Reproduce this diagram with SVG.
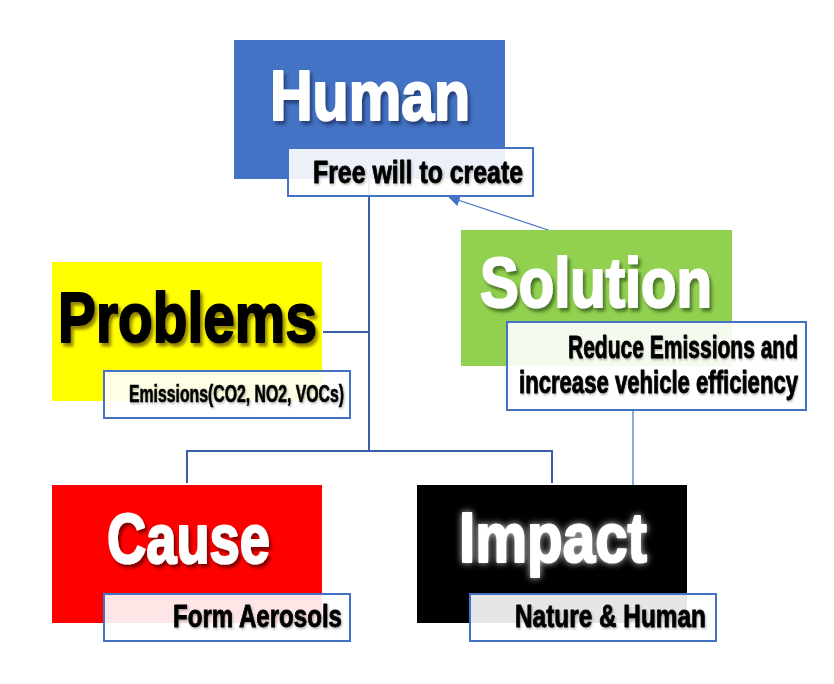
<svg xmlns="http://www.w3.org/2000/svg" width="834" height="684" viewBox="0 0 834 684">
<defs>
<style>
.title{font-family:"Liberation Sans",Arial,sans-serif;font-weight:bold;font-size:70px;stroke-width:2.2;stroke-linejoin:round}
.lbl{font-family:"Liberation Sans",Arial,sans-serif;font-weight:bold;font-size:32px;fill:#000;stroke:#000;stroke-width:0.9;stroke-linejoin:round}
.lblbox{fill:#fff;fill-opacity:0.9;stroke:#4472C4;stroke-width:2}
.conn{fill:none;stroke:#3B5FA6;stroke-width:2}
.thin{fill:none;stroke:#4472C4;stroke-width:1.2}
</style>
<filter id="shBlue" x="-10%" y="-10%" width="130%" height="140%"><feDropShadow dx="2.5" dy="3.5" stdDeviation="1.5" flood-color="#1F3A70" flood-opacity="0.85"/></filter>
<filter id="shYellow" x="-10%" y="-10%" width="130%" height="140%"><feDropShadow dx="2.5" dy="3.5" stdDeviation="1.5" flood-color="#807000" flood-opacity="0.85"/></filter>
<filter id="shRed" x="-10%" y="-10%" width="130%" height="140%"><feDropShadow dx="2.5" dy="3.5" stdDeviation="1.5" flood-color="#700000" flood-opacity="0.85"/></filter>
<filter id="shGreen" x="-10%" y="-10%" width="130%" height="140%"><feDropShadow dx="2.5" dy="3.5" stdDeviation="1.5" flood-color="#3E6A1A" flood-opacity="0.85"/></filter>
<filter id="glow" x="-10%" y="-20%" width="120%" height="140%"><feDropShadow dx="0" dy="0" stdDeviation="3.5" flood-color="#FFFFFF" flood-opacity="0.8"/></filter>
<filter id="shTxt" x="-5%" y="-10%" width="110%" height="140%"><feDropShadow dx="1" dy="1.5" stdDeviation="0.8" flood-color="#000" flood-opacity="0.3"/></filter>
<marker id="arr" viewBox="0 0 10 10" refX="9" refY="5" markerWidth="12" markerHeight="12" markerUnits="userSpaceOnUse" orient="auto"><path d="M0,0 L10,5 L0,10 Z" fill="#4472C4"/></marker>
</defs>
<rect width="834" height="684" fill="#fff"/>
<g id="connectors">
<path class="conn" d="M369,179 V451 M323,332 H369 M187,483 V451 H552 V483"/>
<line class="thin" x1="557" y1="233" x2="449" y2="197" marker-end="url(#arr)"/>
<line class="thin" x1="633" y1="410" x2="633" y2="485"/>
</g>
<g id="human">
<rect x="234" y="40" width="271" height="139" fill="#4472C4"/>
<text class="title" x="270" y="120" textLength="200" lengthAdjust="spacingAndGlyphs" fill="#fff" stroke="#fff" filter="url(#shBlue)">Human</text>
<rect class="lblbox" x="288" y="148" width="245" height="48"/>
<text class="lbl" x="313" y="183" textLength="210" lengthAdjust="spacingAndGlyphs" filter="url(#shTxt)">Free will to create</text>
</g>
<g id="problems">
<rect x="52" y="262" width="270" height="139" fill="#FFFF00"/>
<text class="title" x="58" y="342" textLength="259" lengthAdjust="spacingAndGlyphs" fill="#000" stroke="#000" filter="url(#shYellow)">Problems</text>
<rect class="lblbox" x="104" y="371" width="246" height="47"/>
<text class="lbl" x="129" y="402" style="font-size:23px;stroke-width:0.6" textLength="215" lengthAdjust="spacingAndGlyphs" filter="url(#shTxt)">Emissions(CO2, NO2, VOCs)</text>
</g>
<g id="solution">
<rect x="461" y="230" width="271" height="136" fill="#92D050"/>
<text class="title" x="480" y="307" textLength="232" lengthAdjust="spacingAndGlyphs" fill="#fff" stroke="#fff" filter="url(#shGreen)">Solution</text>
<rect class="lblbox" x="507" y="322" width="299" height="88"/>
<text class="lbl" transform="translate(568,358) scale(0.7,1)" x="0" y="0" textLength="328.6" lengthAdjust="spacingAndGlyphs" filter="url(#shTxt)">Reduce Emissions and</text>
<text class="lbl" transform="translate(519,393) scale(0.7,1)" x="0" y="0" textLength="398.6" lengthAdjust="spacingAndGlyphs" filter="url(#shTxt)">increase vehicle efficiency</text>
</g>
<g id="cause">
<rect x="52" y="485" width="270" height="138" fill="#FF0000"/>
<text class="title" x="107" y="563" textLength="163" lengthAdjust="spacingAndGlyphs" fill="#fff" stroke="#fff" filter="url(#shRed)">Cause</text>
<rect class="lblbox" x="104" y="594" width="246" height="47"/>
<text class="lbl" x="173" y="627" textLength="169" lengthAdjust="spacingAndGlyphs" filter="url(#shTxt)">Form Aerosols</text>
</g>
<g id="impact">
<rect x="417" y="485" width="270" height="138" fill="#000"/>
<text class="title" x="459" y="562" textLength="188" lengthAdjust="spacingAndGlyphs" fill="#fff" stroke="#fff" filter="url(#glow)">Impact</text>
<rect class="lblbox" x="470" y="594" width="246" height="47"/>
<text class="lbl" x="515" y="627" textLength="191" lengthAdjust="spacingAndGlyphs" filter="url(#shTxt)">Nature &amp; Human</text>
</g>
</svg>
